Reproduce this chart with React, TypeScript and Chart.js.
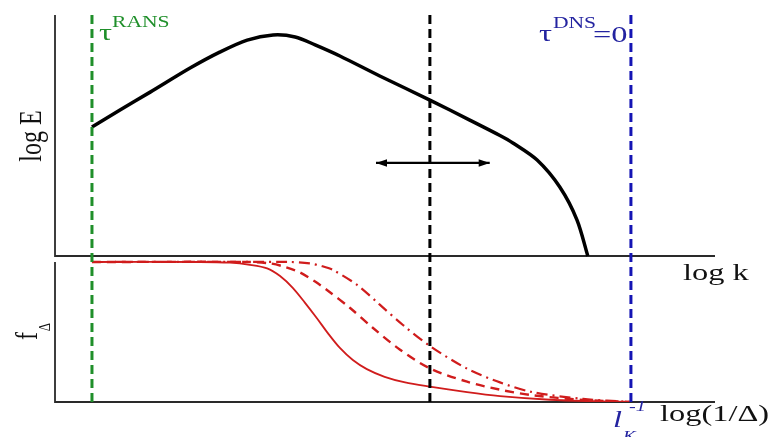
import { useEffect, useRef } from "react";
import { Chart, registerables } from "chart.js";

Chart.register(...registerables);

// wavenumber axis (log k), arbitrary units: RANS limit at 0, Kolmogorov scale at 10
const K_RANS = 0;
const K_CUT = 6.27;
const K_DNS = 10;
const X_MIN = -0.686;
const X_MAX = 11.56;

// the two panels share one plot area: log E sits in the upper part, f_Δ in the lower part
const Y_E_MIN = -0.6058;
const Y_E_MAX = 1;
const Y_F_MIN = 0;
const Y_F_MAX = 2.764;

// energy spectrum, log E (normalised)
const specK = [0, 0.52, 1.08, 1.82, 2.37, 2.88, 3.36, 3.77, 4.14, 4.6, 5.34, 6.27, 7.01, 7.57, 7.81, 8.26, 8.68, 9.0, 9.2];
const specE = [0.535, 0.606, 0.68, 0.78, 0.846, 0.896, 0.917, 0.909, 0.876, 0.83, 0.747, 0.647, 0.564, 0.5, 0.469, 0.398, 0.286, 0.149, 0];

// filter-width arrow around the cut-off
const arrowK = [5.27, 7.38];
const arrowE = 0.386;

// damping functions f_Δ for three filter widths
const fSolidK = [0, 2.0, 2.56, 2.93, 3.25, 3.49, 3.73, 3.95, 4.17, 4.38, 4.6, 4.84, 5.1, 5.43, 5.81, 6.27, 6.96, 7.57, 8.5, 9.42, 10];
const fSolidV = [1, 1, 0.995, 0.98, 0.955, 0.9, 0.814, 0.71, 0.6, 0.49, 0.386, 0.3, 0.235, 0.18, 0.14, 0.11, 0.07, 0.042, 0.016, 0.004, 0];
const fDashK = [0, 2.93, 3.3, 3.58, 3.86, 4.14, 4.36, 4.79, 5.21, 5.71, 6.27, 6.96, 7.57, 8.18, 9.11, 10];
const fDashV = [1, 1, 0.99, 0.965, 0.925, 0.86, 0.8, 0.671, 0.53, 0.375, 0.24, 0.145, 0.088, 0.048, 0.015, 0];
const fDotK = [0, 3.67, 4.04, 4.27, 4.47, 4.92, 5.34, 5.77, 6.27, 6.96, 7.57, 8.18, 9.11, 10];
const fDotV = [1, 1, 0.99, 0.97, 0.943, 0.836, 0.695, 0.55, 0.4, 0.238, 0.14, 0.07, 0.022, 0];

const GREEN = "#1f8f2a";
const BLUE = "#1414b4";
const BLUE_TEXT = "#2323a0";
const RED = "#d01c1c";
const AXIS = "#2a2a2a";
const STRETCH = 1.35;
const SERIF = '"Liberation Serif", "Times New Roman", serif';

const pts = (xs: number[], ys: number[]) => xs.map((x, i) => ({ x, y: ys[i] }));
const vline = (k: number) => [
  { x: k, y: Y_E_MIN },
  { x: k, y: Y_E_MAX },
];

function drawText(
  ctx: CanvasRenderingContext2D,
  text: string,
  x: number,
  y: number,
  size: number,
  color: string,
  italic = false,
  rotate = false
) {
  ctx.save();
  ctx.translate(x, y);
  ctx.scale(STRETCH, 1);
  if (rotate) ctx.rotate(-Math.PI / 2);
  ctx.font = `${italic ? "italic " : ""}${size}px ${SERIF}`;
  ctx.fillStyle = color;
  ctx.textAlign = rotate ? "center" : "left";
  ctx.textBaseline = "alphabetic";
  ctx.fillText(text, 0, 0);
  ctx.restore();
}

const axesPlugin = {
  id: "panelAxes",
  beforeDatasetsDraw(chart: any) {
    const { ctx, chartArea, scales } = chart;
    const yE = scales.yE;
    const yF = scales.yF;
    const left = chartArea.left;
    const right = chartArea.right;
    ctx.save();
    ctx.strokeStyle = AXIS;
    ctx.lineWidth = 1.8;
    ctx.beginPath();
    // upper panel
    ctx.moveTo(left, yE.getPixelForValue(Y_E_MAX));
    ctx.lineTo(left, yE.getPixelForValue(0));
    ctx.lineTo(right, yE.getPixelForValue(0));
    // lower panel
    ctx.moveTo(left, yF.getPixelForValue(1));
    ctx.lineTo(left, yF.getPixelForValue(0));
    ctx.lineTo(right, yF.getPixelForValue(0));
    ctx.stroke();
    ctx.restore();
  },
};

const labelsPlugin = {
  id: "annotations",
  afterDatasetsDraw(chart: any) {
    const { ctx, scales } = chart;
    const x = scales.x;
    const yE = scales.yE;

    // arrowheads on the filter-width arrow
    const meta = chart.getDatasetMeta(3);
    const p0 = meta.data[0];
    const p1 = meta.data[meta.data.length - 1];
    ctx.save();
    ctx.fillStyle = "#000";
    const head = (tx: number, ty: number, dir: number) => {
      ctx.beginPath();
      ctx.moveTo(tx, ty);
      ctx.lineTo(tx - dir * 11, ty - 3.8);
      ctx.lineTo(tx - dir * 11, ty + 3.8);
      ctx.closePath();
      ctx.fill();
    };
    head(p0.x, p0.y, -1);
    head(p1.x, p1.y, 1);
    ctx.restore();

    const xr = x.getPixelForValue(K_RANS);
    const xd = x.getPixelForValue(K_DNS);
    const top = yE.getPixelForValue(Y_E_MAX);
    const axisE = yE.getPixelForValue(0);

    // τ^RANS
    drawText(ctx, "τ", xr + 7, top + 25, 24, GREEN);
    drawText(ctx, "RANS", xr + 20, top + 12, 16, GREEN);
    // τ^DNS=0
    drawText(ctx, "τ", xd - 92, top + 26, 24, BLUE_TEXT);
    drawText(ctx, "DNS", xd - 78, top + 13, 16, BLUE_TEXT);
    drawText(ctx, "=0", xd - 38, top + 27, 24, BLUE_TEXT);

    // axis titles
    drawText(ctx, "log E", 41, 136, 24, "#111", false, true);
    drawText(ctx, "log k", 683, axisE + 24, 24, "#111");
    drawText(ctx, "f", 37, 336, 24, "#111", false, true);
    drawText(ctx, "Δ", 50, 327, 13, "#111", false, true);
    drawText(ctx, "log(1/Δ)", 660, 421, 24, "#111");
    drawText(ctx, "l", xd - 18, 427, 24, BLUE_TEXT, true);
    drawText(ctx, "K", xd - 8, 441, 14, BLUE_TEXT, true);
    drawText(ctx, "-1", xd - 2, 411, 15, BLUE_TEXT, true);
  },
};

export default function App() {
  const canvasRef = useRef<HTMLCanvasElement | null>(null);

  useEffect(() => {
    const canvas = canvasRef.current;
    if (!canvas) return;
    const dashed = (color: string) => ({
      borderColor: color,
      borderWidth: 3,
      borderDash: [9, 5],
      pointRadius: 0,
      fill: false,
      yAxisID: "yE",
    });
    const curve = {
      pointRadius: 0,
      tension: 0.3,
      fill: false,
    };
    const chart = new Chart(canvas, {
      type: "line",
      data: {
        datasets: [
          { label: "cut-off", data: vline(K_CUT), ...dashed("#000") },
          { label: "RANS", data: vline(K_RANS), ...dashed(GREEN) },
          { label: "DNS", data: vline(K_DNS), ...dashed(BLUE) },
          {
            label: "filter width",
            data: arrowK.map((k) => ({ x: k, y: arrowE })),
            borderColor: "#000",
            borderWidth: 2.2,
            pointRadius: 0,
            yAxisID: "yE",
          },
          {
            label: "E(k)",
            data: pts(specK, specE),
            borderColor: "#000",
            borderWidth: 3.5,
            ...curve,
            yAxisID: "yE",
          },
          {
            label: "f solid",
            data: pts(fSolidK, fSolidV),
            borderColor: RED,
            borderWidth: 1.8,
            ...curve,
            yAxisID: "yF",
          },
          {
            label: "f dashed",
            data: pts(fDashK, fDashV),
            borderColor: RED,
            borderWidth: 2.4,
            borderDash: [9, 6],
            ...curve,
            yAxisID: "yF",
          },
          {
            label: "f dash-dot",
            data: pts(fDotK, fDotV),
            borderColor: RED,
            borderWidth: 2.2,
            borderDash: [11, 5, 2, 5],
            ...curve,
            yAxisID: "yF",
          },
        ],
      },
      options: {
        animation: false,
        responsive: false,
        devicePixelRatio: 1,
        layout: { padding: { left: 55, right: 59, top: 15, bottom: 35 } },
        plugins: { legend: { display: false }, tooltip: { enabled: false } },
        scales: {
          x: { type: "linear", min: X_MIN, max: X_MAX, display: false },
          yE: { type: "linear", min: Y_E_MIN, max: Y_E_MAX, display: false },
          yF: { type: "linear", min: Y_F_MIN, max: Y_F_MAX, display: false },
        },
      },
      plugins: [axesPlugin, labelsPlugin],
    });
    return () => chart.destroy();
  }, []);

  return (
    <div
      style={{
        position: "absolute",
        left: 0,
        top: 0,
        width: 774,
        height: 437,
        background: "#fff",
      }}
    >
      <canvas ref={canvasRef} width={774} height={437} style={{ display: "block" }} />
    </div>
  );
}
